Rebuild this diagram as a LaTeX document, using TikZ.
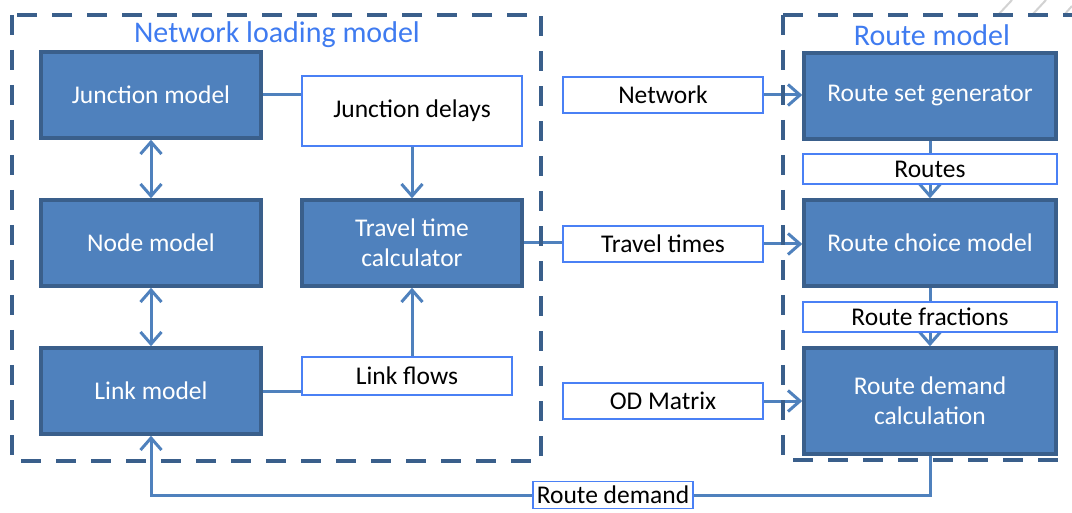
\documentclass[tikz,border=0pt]{standalone}
\usepackage{fontspec}
\setmainfont{Carlito}
\usetikzlibrary{arrows.meta,backgrounds}
\definecolor{boxfill}{HTML}{4F81BD}
\definecolor{boxedge}{HTML}{3A5F8B}
\definecolor{lbledge}{HTML}{4A80F5}
\definecolor{titleblue}{HTML}{3F7BF0}
\definecolor{connc}{HTML}{4F81BD}
\tikzset{
  darkbox/.style={draw=boxedge, line width=3.5pt, fill=boxfill, text=white,
    minimum width=220pt, minimum height=86pt, inner sep=2pt, align=center,
    font=\fontsize{25.5}{30}\selectfont},
  lblbox/.style={draw=lbledge, line width=1.6pt, fill=white, text=black,
    minimum width=200pt, minimum height=36pt, inner sep=1pt, align=center,
    font=\fontsize{25.5}{30}\selectfont},
  frame/.style={draw=boxedge, line width=4pt, dash pattern=on 20pt off 15pt},
  ttl/.style={text=titleblue, font=\fontsize{30}{36}\selectfont, inner sep=0pt},
  conn/.style={draw=connc, line width=3pt},
  tip/.tip={Straight Barb[length=12pt, width=21pt, line width=3pt]}
}
\begin{document}
\begin{tikzpicture}[x=1pt,y=-1pt]
\useasboundingbox (0,0) rectangle (1072,513);
% faint artifacts top right
\draw[gray!35, line width=2pt] (998,15) -- (1012,0) (1032,15) -- (1046,0) (1064,15) -- (1072,6);
% frames
\draw[frame] (12,15) rectangle (541,461);
\draw[frame] (783,15) -- (1072,15) (783,15) -- (783,460) -- (1072,460);
\node[ttl] (t1) at (277,35) {Network loading model};
\node[ttl] (t2) at (932,35) {Route model};
% dark boxes
\node[darkbox] (jm) at (151,95) {Junction model};
\node[darkbox] (nm) at (151,243) {Node model};
\node[darkbox] (lm) at (151,391) {Link model};
\node[darkbox] (ttc) at (412,243) {Travel time\\calculator};
\node[darkbox, minimum width=252pt] (rsg) at (930,96) {Route set generator};
\node[darkbox, minimum width=252pt] (rcm) at (930,243) {Route choice model};
\node[darkbox, minimum width=252pt, minimum height=106pt] (rdc) at (930,401) {Route demand\\calculation};
% label boxes
\node[lblbox, minimum width=220pt, minimum height=70pt] (jd) at (412,111) {Junction delays};
\node[lblbox, minimum width=210pt, minimum height=38pt] (lf) at (407,376) {Link flows};
\node[lblbox] (nw) at (663,95) {Network};
\node[lblbox] (tt) at (663,244) {Travel times};
\node[lblbox] (od) at (663,401) {OD Matrix};
\node[lblbox, minimum width=254pt, minimum height=30pt] (ro) at (930,169) {Routes};
\node[lblbox, minimum width=254pt, minimum height=30pt] (rf) at (930,317) {Route fractions};
\node[lblbox, minimum width=160pt, minimum height=27pt] (rd) at (613,495) {Route demand};
% connectors
\begin{scope}[on background layer]
\draw[conn] (jm.east) -- (jm.east -| jd.west);
\draw[conn,-{tip}] (jd.south) -- (ttc.north);
\draw[conn,{tip}-{tip}] (jm.south) -- (nm.north);
\draw[conn,{tip}-{tip}] (nm.south) -- (lm.north);
\draw[conn] (lm.east) -- (lm.east -| lf.west);
\draw[conn,-{tip}] (ttc.south |- lf.north) -- (ttc.south);
\draw[conn] (ttc.east) -- (ttc.east -| tt.west);
\draw[conn,-{tip}] (tt.east) -- (tt.east -| rcm.west);
\draw[conn,-{tip}] (nw.east) -- (nw.east -| rsg.west);
\draw[conn,-{tip}] (od.east) -- (od.east -| rdc.west);
\draw[conn,-{tip}] (rsg.south) -- (rcm.north);
\draw[conn,-{tip}] (rcm.south) -- (rdc.north);
\draw[conn,-{tip}] (rdc.south) -- (rdc.south |- rd.center) -- (lm.south |- rd.center) -- (lm.south);
\end{scope}
\end{tikzpicture}
\end{document}
